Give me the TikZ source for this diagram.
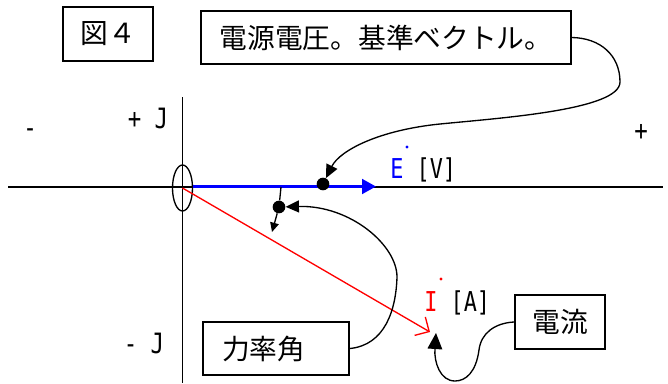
\documentclass[tikz,border=0pt]{standalone}
\usepackage{fontspec}
\setmainfont{Noto Sans CJK JP}
\newfontfamily\monofont[FakeStretch=0.8]{DejaVu Sans Mono}
\usepackage{tikz}
\usetikzlibrary{arrows.meta,positioning,shapes.geometric}

\begin{document}
\begin{tikzpicture}[
  x=0.75pt,y=-0.75pt,
  callout/.style={draw,line width=1.4pt,minimum height=40pt,inner sep=0pt,font=\fontsize{20.8}{24}\selectfont},
  pin/.style={line width=1pt,-{Triangle[length=10pt,width=9pt]}},
  bigpin/.style={line width=1pt,-{Triangle[length=12pt,width=11pt]}},
  axis/.style={line width=1.3pt},
  dotmark/.style={circle,fill,inner sep=0pt,minimum size=9.5pt},
  sign/.style={font=\monofont\fontsize{21}{24}\selectfont,inner sep=0pt},
  unit/.style={font=\monofont\fontsize{20.5}{24}\selectfont,inner sep=0pt,anchor=base west}
]
\useasboundingbox (0,0) rectangle (668,383);
\draw[axis] (8,187) -- (663,187);
\draw[axis] (182.5,97) -- (182.5,383);
\node[ellipse,draw,line width=1pt,minimum width=15pt,minimum height=34.5pt,inner sep=0pt] (org) at (182.5,188) {};

\node[sign] (mre) at (30,133) {-};
\node[sign] (pre) at (641,132) {+};
\node[sign] (pim) at (148,118) {+ J};
\node[sign] (mim) at (144,343) {- J};

\coordinate (vtip) at (376,186.5);
\draw[blue,line width=2.2pt,-{Triangle[length=10.5pt,width=11pt]}] (org.east |- vtip) -- (vtip);
\coordinate (itip) at (430,332);
\draw[red,line width=1pt,-{Straight Barb[length=8pt,width=16pt]}] (org.center) -- (itip);

\node[unit] (vlab) at (390,178) {\textcolor{blue}{E} [V]};
\fill[blue] (407,147) circle[radius=1.2pt];
\node[unit] (ilab) at (424,311) {\textcolor{red}{I} [A]};
\fill[red] (441,279) circle[radius=1.2pt];

\node[dotmark] (vdot) at (323,184) {};
\node[dotmark] (pfdot) at (279,207) {};
\coordinate (pftop) at (281,187);
\coordinate (pfend) at (272,232);
\draw[line width=1pt] (pftop) -- (pfdot);
\draw[line width=1pt,-{Triangle[length=7pt,width=6.5pt]}] (pfdot) -- (pfend);

\node[callout,minimum width=67.5pt] (fig) at (108,34) {図４};
\node[callout,minimum width=277.5pt] (vbox) at (386,37.5) {電源電圧。基準ベクトル。};
\node[callout,minimum width=109.5pt,text width=81pt,inner xsep=13pt,align=left] (pfbox) at (276,348.5) {力率角};
\node[callout,minimum width=67.5pt] (ibox) at (560,322) {電流};

\draw[pin] (vbox.east) .. controls (600,38) and (620,55) .. (620,82)
  .. controls (620,110) and (500,118) .. (440,124)
  .. controls (380,130) and (340,150) .. (vdot);
\draw[pin] (pfbox.east) .. controls (385,345) and (396,310) .. (397,277)
  .. controls (397,245) and (350,205) .. (pfdot);
\coordinate (itarget) at (436,333);
\draw[bigpin] (ibox.west) .. controls (495,323) and (481,333) .. (479,350)
  .. controls (476,372) and (466,381) .. (455,381)
  .. controls (440,381) and (434,362) .. (itarget);
\end{tikzpicture}
\end{document}
